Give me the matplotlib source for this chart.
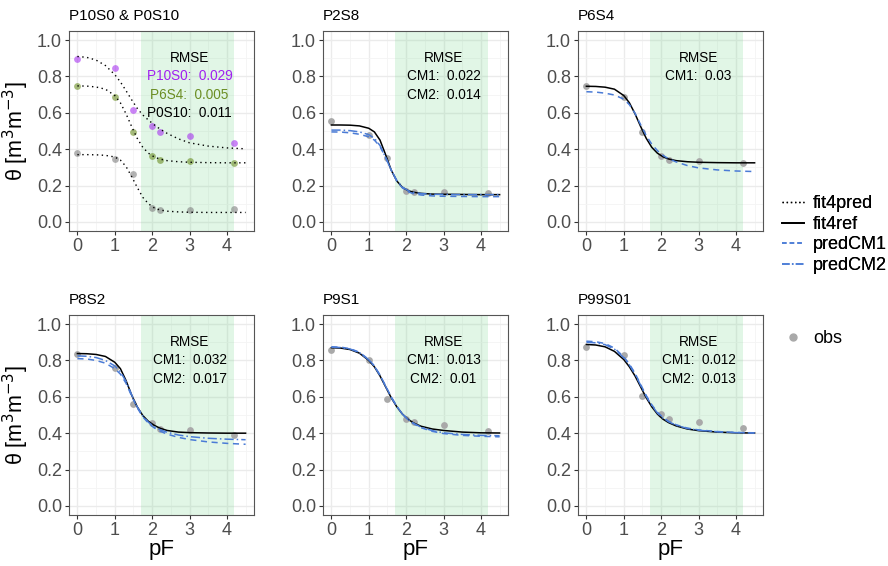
import matplotlib
matplotlib.use("Agg")
import matplotlib.pyplot as plt
from matplotlib.lines import Line2D

plt.rcParams['font.family'] = ['Liberation Sans', 'DejaVu Sans']

# observation pF values
obs_pf = [0, 1, 1.5, 2, 2.2, 3, 4.2]
curve_pf = [0, 0.25, 0.5, 0.75, 1.0, 1.15, 1.3, 1.45, 1.6, 1.75, 1.9, 2.05, 2.2, 2.4, 2.7, 3.0, 3.5, 4.0, 4.5]

# panel 1: P10S0 & P0S10
obs_P10S0 = [0.897, 0.848, 0.618, 0.527, 0.497, 0.473, 0.435]
obs_P6S4 = [0.750, 0.685, 0.495, 0.364, 0.340, 0.334, 0.326]
obs_P0S10 = [0.380, 0.346, 0.263, 0.078, 0.067, 0.063, 0.069]
fit4pred_P10S0 = [0.910, 0.905, 0.890, 0.860, 0.810, 0.770, 0.722, 0.672, 0.625, 0.588, 0.560, 0.535, 0.512, 0.487, 0.457, 0.435, 0.417, 0.407, 0.402]
fit4pred_P6S4 = [0.748, 0.747, 0.742, 0.730, 0.695, 0.655, 0.595, 0.525, 0.460, 0.410, 0.378, 0.358, 0.346, 0.337, 0.331, 0.328, 0.326, 0.325, 0.325]
fit4pred_P0S10 = [0.370, 0.370, 0.369, 0.366, 0.357, 0.340, 0.305, 0.250, 0.190, 0.135, 0.100, 0.078, 0.066, 0.059, 0.055, 0.053, 0.052, 0.052, 0.052]

# panel 2: P2S8
obs_P2S8 = [0.553, 0.476, 0.350, 0.172, 0.163, 0.165, 0.160]
ref_P2S8 = [0.533, 0.533, 0.532, 0.528, 0.515, 0.495, 0.450, 0.370, 0.285, 0.225, 0.190, 0.172, 0.163, 0.157, 0.153, 0.152, 0.151, 0.150, 0.150]
cm1_P2S8 = [0.495, 0.494, 0.490, 0.482, 0.468, 0.450, 0.415, 0.355, 0.285, 0.225, 0.187, 0.166, 0.155, 0.148, 0.143, 0.141, 0.140, 0.139, 0.139]
cm2_P2S8 = [0.505, 0.505, 0.502, 0.495, 0.480, 0.460, 0.420, 0.355, 0.285, 0.228, 0.192, 0.172, 0.162, 0.156, 0.152, 0.151, 0.150, 0.150, 0.150]

# panel 3: P6S4
ref_P6S4 = [0.746, 0.745, 0.741, 0.730, 0.695, 0.655, 0.595, 0.525, 0.460, 0.410, 0.378, 0.358, 0.346, 0.337, 0.331, 0.328, 0.326, 0.325, 0.325]
cm1_P6S4 = [0.716, 0.714, 0.708, 0.698, 0.675, 0.645, 0.598, 0.535, 0.475, 0.427, 0.392, 0.366, 0.347, 0.330, 0.310, 0.297, 0.286, 0.280, 0.277]

# panel 4: P8S2
obs_P8S2 = [0.835, 0.761, 0.560, 0.457, 0.422, 0.415, 0.391]
ref_P8S2 = [0.838, 0.837, 0.833, 0.822, 0.790, 0.755, 0.690, 0.610, 0.545, 0.497, 0.465, 0.444, 0.428, 0.415, 0.406, 0.403, 0.401, 0.400, 0.400]
cm1_P8S2 = [0.810, 0.808, 0.800, 0.785, 0.755, 0.725, 0.675, 0.605, 0.540, 0.490, 0.455, 0.430, 0.412, 0.395, 0.377, 0.365, 0.352, 0.344, 0.339]
cm2_P8S2 = [0.825, 0.823, 0.816, 0.800, 0.770, 0.738, 0.685, 0.612, 0.545, 0.495, 0.460, 0.436, 0.420, 0.405, 0.390, 0.381, 0.372, 0.367, 0.364]

# panel 5: P9S1
obs_P9S1 = [0.860, 0.800, 0.589, 0.480, 0.460, 0.444, 0.410]
ref_P9S1 = [0.870, 0.868, 0.860, 0.840, 0.800, 0.765, 0.715, 0.655, 0.595, 0.545, 0.505, 0.477, 0.456, 0.438, 0.423, 0.415, 0.406, 0.402, 0.401]
cm1_P9S1 = [0.875, 0.873, 0.865, 0.845, 0.805, 0.770, 0.720, 0.660, 0.600, 0.548, 0.505, 0.475, 0.452, 0.430, 0.410, 0.398, 0.388, 0.383, 0.380]
cm2_P9S1 = [0.873, 0.871, 0.863, 0.843, 0.803, 0.768, 0.718, 0.658, 0.598, 0.547, 0.505, 0.476, 0.454, 0.433, 0.414, 0.402, 0.393, 0.388, 0.386]

# panel 6: P99S01
obs_P99S01 = [0.873, 0.828, 0.605, 0.505, 0.480, 0.462, 0.428]
ref_P99S01 = [0.888, 0.885, 0.875, 0.850, 0.805, 0.765, 0.715, 0.655, 0.595, 0.545, 0.505, 0.477, 0.458, 0.440, 0.423, 0.414, 0.406, 0.402, 0.401]
cm1_P99S01 = [0.906, 0.903, 0.893, 0.868, 0.820, 0.780, 0.730, 0.668, 0.607, 0.556, 0.515, 0.486, 0.465, 0.446, 0.428, 0.418, 0.409, 0.404, 0.402]
cm2_P99S01 = [0.900, 0.897, 0.887, 0.862, 0.815, 0.775, 0.725, 0.664, 0.603, 0.552, 0.511, 0.483, 0.463, 0.444, 0.426, 0.416, 0.408, 0.403, 0.401]

rmse_P2S8 = ["0.022", "0.014"]
rmse_P6S4 = ["0.03"]
rmse_P8S2 = ["0.032", "0.017"]
rmse_P9S1 = ["0.013", "0.01"]
rmse_P99S01 = ["0.012", "0.013"]
rmse_panel1 = [("P10S0", "0.029"), ("P6S4", "0.005"), ("P0S10", "0.011")]

band = (1.7, 4.2)

BLUE = '#4a7bd6'
GREY_PT = '#a9a9a9'
PURPLE = '#a020f0'
OLIVE = '#6b8e23'

fig = plt.figure(figsize=(8.88, 5.66), dpi=100)

lefts = [69, 323, 578]
tops = [31, 315]
W, H = 185, 200


def make_ax(row, col):
    l = lefts[col] / 888
    b = 1 - (tops[row] + H) / 566
    ax = fig.add_axes([l, b, W / 888, H / 566])
    ax.set_xlim(-0.225, 4.725)
    ax.set_ylim(-0.05, 1.05)
    ax.set_xticks([0, 1, 2, 3, 4])
    ax.set_yticks([0, 0.2, 0.4, 0.6, 0.8, 1.0])
    ax.set_yticklabels(['0.0', '0.2', '0.4', '0.6', '0.8', '1.0'])
    ax.set_xticks([0.5, 1.5, 2.5, 3.5, 4.5], minor=True)
    ax.set_yticks([0.1, 0.3, 0.5, 0.7, 0.9], minor=True)
    ax.grid(which='major', color='#ebebeb', lw=1.0, zorder=0)
    ax.grid(which='minor', color='#f4f4f4', lw=0.6, zorder=0)
    ax.set_axisbelow(True)
    ax.tick_params(which='major', length=3, width=0.8, color='#333333',
                   labelsize=13, labelcolor='#4d4d4d', pad=2)
    ax.tick_params(which='minor', length=0)
    for s in ax.spines.values():
        s.set_color('#555555')
        s.set_linewidth(0.8)
    ax.axvspan(band[0], band[1], color=(105/255, 210/255, 130/255), alpha=0.2, lw=0, zorder=1)
    return ax


def title(ax, t):
    ax.text(0, 1.04, t, transform=ax.transAxes, fontsize=11, ha='left', va='bottom')


def rmse(ax, vals):
    ax.text(3, 0.9, 'RMSE', ha='center', va='center', fontsize=9.8)
    for i, v in enumerate(vals):
        ax.text(3, 0.8 - 0.1 * i, 'CM%d:  %s' % (i + 1, v), ha='center', va='center', fontsize=9.8)


def pts(ax, y, c=GREY_PT, a=1.0):
    ax.scatter(obs_pf, y, s=24, color=c, alpha=a, lw=0, zorder=3)


# panel 1
ax = make_ax(0, 0)
title(ax, 'P10S0 & P0S10')
pts(ax, obs_P10S0, PURPLE, 0.55)
pts(ax, obs_P6S4, OLIVE, 0.6)
pts(ax, obs_P0S10, 'grey', 0.6)
for y in [fit4pred_P10S0, fit4pred_P6S4, fit4pred_P0S10]:
    ax.plot(curve_pf, y, color='black', lw=1.0, ls=(0, (1, 2.5)), zorder=4)
ax.text(3, 0.9, 'RMSE', ha='center', va='center', fontsize=9.8)
for i, (nm, v) in enumerate(rmse_panel1):
    c = [PURPLE, OLIVE, 'black'][i]
    ax.text(3, 0.8 - 0.1 * i, '%s:  %s' % (nm, v), ha='center', va='center', fontsize=9.8, color=c)
ax.set_ylabel('θ [m$^3$m$^{-3}$]', fontsize=15.5, labelpad=4)

# panel 2
ax = make_ax(0, 1)
title(ax, 'P2S8')
pts(ax, obs_P2S8)
ax.plot(curve_pf, ref_P2S8, color='black', lw=1.1, zorder=4)
ax.plot(curve_pf, cm1_P2S8, color=BLUE, lw=1.1, ls=(0, (4, 3)), zorder=4)
ax.plot(curve_pf, cm2_P2S8, color=BLUE, lw=1.1, ls=(0, (6, 2, 1, 2)), zorder=4)
rmse(ax, rmse_P2S8)

# panel 3
ax = make_ax(0, 2)
title(ax, 'P6S4')
pts(ax, obs_P6S4)
ax.plot(curve_pf, ref_P6S4, color='black', lw=1.1, zorder=4)
ax.plot(curve_pf, cm1_P6S4, color=BLUE, lw=1.1, ls=(0, (4, 3)), zorder=4)
rmse(ax, rmse_P6S4)

# bottom row
bottom = [
    ('P8S2', obs_P8S2, ref_P8S2, cm1_P8S2, cm2_P8S2, rmse_P8S2),
    ('P9S1', obs_P9S1, ref_P9S1, cm1_P9S1, cm2_P9S1, rmse_P9S1),
    ('P99S01', obs_P99S01, ref_P99S01, cm1_P99S01, cm2_P99S01, rmse_P99S01),
]
for j, (nm, o, r, c1, c2, rm) in enumerate(bottom):
    ax = make_ax(1, j)
    title(ax, nm)
    pts(ax, o)
    ax.plot(curve_pf, r, color='black', lw=1.1, zorder=4)
    ax.plot(curve_pf, c1, color=BLUE, lw=1.1, ls=(0, (4, 3)), zorder=4)
    ax.plot(curve_pf, c2, color=BLUE, lw=1.1, ls=(0, (6, 2, 1, 2)), zorder=4)
    rmse(ax, rm)
    ax.set_xlabel('pF', fontsize=16, labelpad=0)
    if j == 0:
        ax.set_ylabel('θ [m$^3$m$^{-3}$]', fontsize=15.5, labelpad=4)

# legends
h1 = [Line2D([], [], color='black', lw=1.0, ls=(0, (1, 2))),
      Line2D([], [], color='black', lw=1.3),
      Line2D([], [], color=BLUE, lw=1.1, ls=(0, (3, 2))),
      Line2D([], [], color=BLUE, lw=1.1, ls=(0, (5, 1.5, 1, 1.5)))]
leg1 = fig.legend(h1, ['fit4pred', 'fit4ref', 'predCM1', 'predCM2'], loc='upper left',
                  bbox_to_anchor=(775 / 888, 1 - 188 / 566), frameon=False, fontsize=13,
                  handlelength=1.2, handletextpad=0.5, labelspacing=0.2, borderaxespad=0)
h2 = [Line2D([], [], color=GREY_PT, marker='o', ls='', ms=5)]
fig.legend(h2, ['obs'], loc='upper left', bbox_to_anchor=(775 / 888, 1 - 323 / 566),
           frameon=False, fontsize=13, handlelength=1.2, handletextpad=0.5, borderaxespad=0)
fig.add_artist(leg1)

fig.savefig('out.png', dpi=100)
